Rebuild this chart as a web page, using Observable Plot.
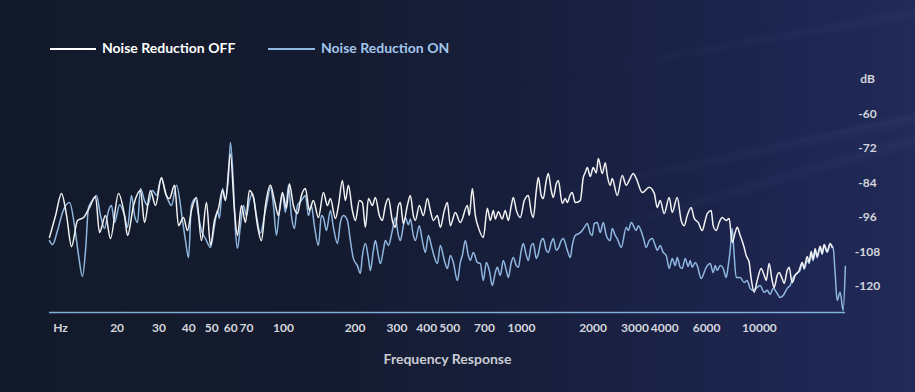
<!DOCTYPE html>
<html>
<head>
<meta charset="utf-8">
<script src="https://cdn.jsdelivr.net/npm/d3@7"></script>
<script src="https://cdn.jsdelivr.net/npm/@observablehq/plot@0.6"></script>
<style>
  html, body { margin: 0; padding: 0; background: #131a2c; }
  #wrap {
    position: relative; width: 915px; height: 392px; overflow: hidden;
    background: linear-gradient(to right, #121a2a 0%, #141b2f 35%, #181f3e 60%, #1d2550 85%, #212a58 100%);
    font-family: Lato, "Open Sans", sans-serif;
  }
  #streaks {
    position: absolute; inset: 0; pointer-events: none;
    background:
      linear-gradient(168deg, rgba(0,0,0,0) 52%, rgba(140,170,220,0.07) 53%, rgba(0,0,0,0) 55%),
      linear-gradient(164deg, rgba(0,0,0,0) 60%, rgba(140,170,220,0.06) 61.5%, rgba(0,0,0,0) 63%),
      linear-gradient(170deg, rgba(0,0,0,0) 30%, rgba(140,170,220,0.05) 31.5%, rgba(0,0,0,0) 33%);
    -webkit-mask-image: linear-gradient(to right, rgba(0,0,0,0) 55%, rgba(0,0,0,1) 100%);
    mask-image: linear-gradient(to right, rgba(0,0,0,0) 55%, rgba(0,0,0,1) 100%);
  }
  #chart { position: absolute; left: 0; top: 0; }
  .lg-line { position: absolute; height: 1.5px; }
  .lg-text { position: absolute; font-size: 14px; font-weight: bold; line-height: 14px; white-space: nowrap; }
</style>
</head>
<body>
<div id="wrap">
  <div id="streaks"></div>
  <div id="chart"></div>
  <div class="lg-line" style="left:50px; top:48px; width:46px; background:#ffffff;"></div>
  <div class="lg-text" style="left:102px; top:41px; color:#ffffff;">Noise Reduction OFF</div>
  <div class="lg-line" style="left:268px; top:48px; width:47px; background:#8fb7df;"></div>
  <div class="lg-text" style="left:321px; top:41px; color:#a3c6ea;">Noise Reduction ON</div>
</div>
<script>
// Axis ticks
const xTicks = [20, 30, 40, 50, 60, 70, 100, 200, 300, 400, 500, 700, 1000, 2000, 3000, 4000, 6000, 10000];
const yTicks = [-48, -60, -72, -84, -96, -108, -120];
const xDomain = [10.4, 23000];
const yDomain = [-129, -48];

// Noise Reduction OFF (frequency in Hz, level in dB)
const offHz = [10.4, 11.03, 11.68, 12.27, 12.87, 13.64, 14.45, 15.31, 16.23, 16.87, 17.88, 18.76, 20.28, 21.49, 22.13, 23.45, 25.08, 26.08, 27.63, 29.0,
  30.73, 31.95, 33.2, 34.86, 36.24, 38.02, 39.53, 41.07, 43.12, 45.24, 47.5, 49.36, 51.32, 53.36, 55.43, 57.08, 59.89, 62.27, 64.11, 66.61,
  69.26, 71.96, 74.82, 77.79, 80.82, 84.03, 88.18, 91.68, 95.32, 99.03, 103, 105.9, 110.1, 114.5, 119, 123.7, 128.5, 133.6, 140.3, 147.2,
  153.1, 157.5, 165.4, 170.3, 176.9, 182.1, 187.5, 194.8, 200.6, 208.5, 214.7, 221, 227.6, 236.4, 243.4, 252.9, 260.4, 268.1, 276.1, 286.8,
  295.3, 304.1, 309.9, 319.1, 331.8, 341.4, 351.5, 358.4, 372.4, 387.2, 402.6, 414.2, 426.5, 443.4, 456.3, 474.5, 488.5, 502.7, 527.7, 553.7,
  592.7, 604, 621.9, 640.3, 659.3, 691.7, 719.2, 740, 762, 777, 800, 831, 855, 881, 906.6, 924.5, 951.9, 989.1, 1028, 1069,
  1100, 1122, 1155, 1178, 1211, 1235, 1272, 1297, 1335, 1361, 1401, 1429, 1485, 1529, 1559, 1604, 1635, 1683, 1767, 1819,
  1855, 1892, 1946, 2004, 2063, 2104, 2186, 2251, 2295, 2361, 2407, 2527, 2652, 2758, 2837, 2950, 3037, 3218, 3443, 3615,
  3722, 3829, 3981, 4177, 4301, 4515, 4691, 4831, 4974, 5168, 5322, 5533, 5748, 5919, 6035, 6271, 6394, 6584, 6775, 6976,
  7253, 7462, 7683, 7910, 8066, 8301, 8630, 8800, 9055, 9232, 9507, 9788, 10170, 10472, 10677, 10987, 11312, 11535, 11877, 12103,
  12461, 12707, 13083, 13331, 13726, 14132, 14685, 15120, 15420, 15874, 16176, 16493, 16818, 17148, 17486, 17993, 18345, 18707, 19261, 19819,
  20208];
const offDb = [-102.9, -95.3, -87.6, -95.3, -106.1, -97.0, -96.0, -92.5, -88.7, -101.2, -95.3, -103.3, -87.6, -95.3, -102.2, -91.8, -86.6, -97.7, -86.6, -91.8,
  -82.1, -87.6, -89.4, -84.8, -98.8, -96.0, -100.5, -93.5, -89.0, -104.0, -90.8, -105.7, -97.0, -92.8, -86.6, -90.1, -74.0, -93.5, -102.2, -91.8,
  -97.7, -86.6, -89.0, -98.8, -104.0, -91.8, -84.8, -90.1, -95.3, -87.3, -92.8, -84.2, -91.8, -94.6, -88.3, -85.9, -93.5, -90.1, -96.0, -87.3,
  -91.8, -89.4, -96.3, -91.8, -83.1, -90.1, -84.8, -93.5, -97.0, -90.1, -90.8, -99.4, -89.4, -91.8, -89.0, -95.3, -97.0, -91.8, -89.4, -97.0,
  -99.4, -91.8, -90.8, -98.1, -91.8, -88.3, -95.3, -97.0, -91.8, -95.3, -89.4, -93.5, -97.0, -95.3, -99.4, -93.5, -90.8, -98.8, -94.2, -97.7,
  -91.8, -95.3, -85.9, -95.3, -99.4, -102.9, -92.8, -97.0, -93.5, -96.5, -94.0, -96.5, -93.5, -97.0, -91.8, -89.0, -93.5, -96.0, -90.1, -88.3,
  -94.2, -96.0, -86.6, -82.1, -88.3, -89.4, -83.1, -80.7, -86.6, -89.0, -84.2, -83.1, -91.1, -89.4, -90.8, -88.0, -87.3, -90.8, -90.1, -82.1,
  -80.3, -78.6, -81.7, -78.6, -80.5, -75.5, -80.7, -76.9, -81.4, -84.8, -82.4, -88.3, -81.4, -84.8, -83.1, -80.7, -82.4, -87.3, -85.5, -87.6,
  -92.5, -90.1, -94.6, -89.0, -94.2, -89.0, -97.0, -98.8, -95.3, -92.5, -96.3, -97.7, -100.5, -97.0, -94.6, -93.5, -98.8, -100.5, -97.7, -96.0,
  -97.0, -96.3, -104.7, -101.2, -99.4, -102.2, -106.4, -109.2, -111.6, -117.2, -122.0, -117.9, -113.7, -116.1, -117.9, -112.0, -117.9, -120.3, -116.1, -115.1,
  -117.2, -118.9, -114.4, -113.3, -118.6, -116.1, -114.4, -111.6, -113.5, -109.5, -111.5, -107.8, -110.5, -106.8, -109.5, -106.0, -108.5, -105.4, -107.8, -105.0,
  -106.4];

// Noise Reduction ON (frequency in Hz, level in dB)
const onHz = [10.4, 10.71, 11.24, 11.8, 12.62, 13.25, 13.78, 14.31, 14.74, 15.17, 15.76, 16.39, 17.04, 17.71, 18.42, 18.94, 19.51, 20.5, 21.49, 22.13,
  22.99, 23.68, 24.38, 25.08, 26.08, 26.85, 28.17, 29.29, 30.6, 32.58, 33.85, 35.54, 37.65, 38.77, 39.92, 41.07, 42.7, 43.97, 45.24, 47.04,
  49.36, 51.32, 52.84, 53.84, 55.43, 57.08, 58.77, 59.89, 61.66, 62.87, 64.11, 65.97, 67.92, 69.94, 71.96, 74.09, 77.03, 80.05, 83.23, 85.69,
  88.18, 90.79, 93.48, 96.18, 99.03, 101.96, 105, 108, 111.2, 114.5, 119, 123.7, 127.4, 131, 134.9, 140.3, 144.4, 147.2, 151.6, 157.5,
  162.2, 168.6, 173.5, 178.6, 185.7, 191.1, 196.7, 204.5, 210.5, 214.7, 221, 227.6, 231.9, 238.7, 243.4, 250.6, 255.4, 262.9, 268.1, 276.1,
  286.8, 295.3, 304.1, 309.9, 319.1, 325.3, 335, 341.4, 351.5, 358.4, 372.4, 383.4, 394.8, 406.5, 418.2, 426.5, 443.4, 456.3, 474.5, 488.5,
  502.7, 517.6, 538.1, 553.7, 564.5, 581.3, 598.5, 609.9, 628, 652.9, 671.8, 691.7, 712.2, 732.8, 754.5, 776.8, 792.1, 815.1, 839.2, 864.1,
  881.1, 906.6, 924.5, 951.9, 970.6, 998.7, 1018, 1049, 1069, 1100, 1122, 1155, 1178, 1211, 1235, 1272, 1297, 1335, 1361, 1401,
  1429, 1470, 1499, 1559, 1604, 1635, 1683, 1750, 1802, 1837, 1892, 1946, 1984, 2023, 2083, 2144, 2207, 2273, 2361, 2407,
  2479, 2527, 2626, 2758, 2812, 2893, 3037, 3097, 3249, 3345, 3443, 3545, 3650, 3722, 3829, 3943, 4059, 4177, 4301, 4428,
  4515, 4646, 4737, 4878, 5022, 5119, 5219, 5374, 5480, 5692, 5977, 6210, 6394, 6520, 6648, 6841, 7044, 7253, 7396, 7535,
  7683, 7834, 7988, 8301, 8630, 8886, 9144, 9414, 9788, 10072, 10472, 10782, 11095, 11423, 11877, 12222, 12583, 13083, 13462, 13860,
  14411, 14829, 15120, 15418, 15874, 16176, 16493, 16818, 17148, 17486, 17993, 18345, 18707, 19261, 19819, 20406, 20807, 21217, 21832, 22478,
  22970];
const onDb = [-104.0, -105.4, -100.5, -94.2, -90.8, -98.8, -109.2, -116.5, -107.4, -92.5, -90.1, -88.3, -95.3, -99.8, -93.5, -91.8, -97.7, -91.5, -95.3, -99.4,
  -88.3, -95.3, -97.7, -85.9, -90.1, -91.8, -86.6, -88.3, -82.4, -89.5, -91.8, -84.8, -97.0, -104.0, -109.9, -91.8, -89.4, -95.3, -100.5, -103.3,
  -106.4, -98.8, -93.5, -96.3, -85.9, -89.4, -81.4, -69.9, -84.8, -100.5, -106.7, -98.8, -91.8, -95.3, -90.1, -87.6, -95.3, -101.5, -95.3, -90.1,
  -85.5, -91.8, -102.2, -93.5, -87.6, -94.2, -84.8, -95.3, -99.8, -91.8, -90.1, -88.3, -95.3, -91.8, -98.8, -105.7, -95.3, -96.0, -100.5, -93.5,
  -99.4, -105.0, -97.7, -95.3, -97.0, -104.0, -110.2, -112.7, -115.4, -109.2, -105.0, -110.2, -114.4, -107.4, -104.0, -109.2, -112.0, -107.4, -104.0, -105.7,
  -100.5, -96.0, -102.2, -104.0, -98.8, -96.0, -98.5, -96.5, -102.2, -104.0, -98.8, -104.0, -108.1, -102.2, -105.7, -108.5, -112.0, -105.7, -110.9, -113.7,
  -109.2, -111.6, -117.9, -111.6, -109.2, -104.0, -109.2, -110.9, -108.1, -111.6, -112.0, -117.9, -111.6, -114.4, -119.6, -115.1, -113.3, -116.1, -110.9, -114.4,
  -116.8, -111.6, -109.9, -112.7, -113.3, -107.4, -105.0, -109.2, -110.9, -105.7, -105.0, -110.2, -108.5, -104.0, -103.3, -107.4, -108.1, -104.7, -103.3, -107.4,
  -106.7, -104.0, -103.3, -107.4, -109.9, -105.7, -102.2, -101.5, -100.5, -99.4, -98.1, -101.5, -102.2, -98.1, -97.7, -101.2, -97.7, -102.2, -104.0, -99.8,
  -102.2, -103.3, -106.4, -99.4, -100.5, -97.7, -100.5, -98.8, -102.9, -106.4, -104.0, -103.3, -105.7, -107.4, -105.7, -108.1, -109.2, -113.7, -110.2, -112.7,
  -109.9, -113.3, -113.7, -110.2, -113.0, -110.9, -113.3, -111.6, -112.7, -117.2, -113.3, -112.0, -115.1, -112.7, -114.4, -112.7, -113.7, -116.8, -112.7, -107.4,
  -99.8, -109.2, -116.8, -116.8, -118.6, -117.9, -120.6, -121.3, -120.3, -119.6, -122.0, -121.3, -122.7, -120.6, -122.4, -123.8, -123.1, -120.6, -119.6, -116.8,
  -115.4, -114.4, -111.6, -114.0, -110.9, -112.0, -108.8, -111.0, -107.4, -110.0, -106.4, -108.8, -105.7, -108.1, -105.4, -106.4, -115.4, -124.8, -122.0, -128.3,
  -113.0];

const offRows = offHz.map((hz, i) => ({hz, db: offDb[i]}));
const onRows = onHz.map((hz, i) => ({hz, db: onDb[i]}));

const labelFill = "#d3d6dd";
const chart = Plot.plot({
  width: 915,
  height: 392,
  marginLeft: 49,
  marginRight: 70,
  marginTop: 79,
  marginBottom: 80,
  style: {background: "transparent", fontFamily: "Lato, 'Open Sans', sans-serif", overflow: "visible"},
  x: {type: "log", domain: xDomain, axis: null},
  y: {domain: yDomain},
  marks: [
    Plot.ruleY([yDomain[0]], {stroke: "#7fb0d8", strokeWidth: 1.5}),
    // x tick labels, placed through the x scale
    Plot.text(xTicks, {x: d => d, text: d => String(d), frameAnchor: "bottom", dy: 11, lineAnchor: "top",
      fontSize: 12, fontWeight: "bold", fill: labelFill}),
    Plot.axisY({anchor: "right", ticks: yTicks, tickFormat: d => d === -48 ? "dB" : String(d),
      tickSize: 0, tickPadding: 22, textAnchor: "middle", fontSize: 12, fontWeight: "bold", fill: labelFill, label: null}),
    Plot.text(["Hz"], {text: d => d, frameAnchor: "bottom-left", dx: 11, dy: 11, lineAnchor: "top",
      textAnchor: "middle", fontSize: 12, fontWeight: "bold", fill: labelFill}),
    Plot.text(["Frequency Response"], {text: d => d, frameAnchor: "bottom", dy: 47, lineAnchor: "middle",
      fontSize: 14, fontWeight: "bold", fill: "#c9ccd3"}),
    Plot.line(onRows, {x: "hz", y: "db", stroke: "#8fb7df", strokeWidth: 1.5, curve: "monotone-x"}),
    Plot.line(offRows, {x: "hz", y: "db", stroke: "#f2f2f2", strokeWidth: 1.5, curve: "monotone-x"})
  ]
});
document.getElementById("chart").appendChild(chart);
</script>
</body>
</html>
